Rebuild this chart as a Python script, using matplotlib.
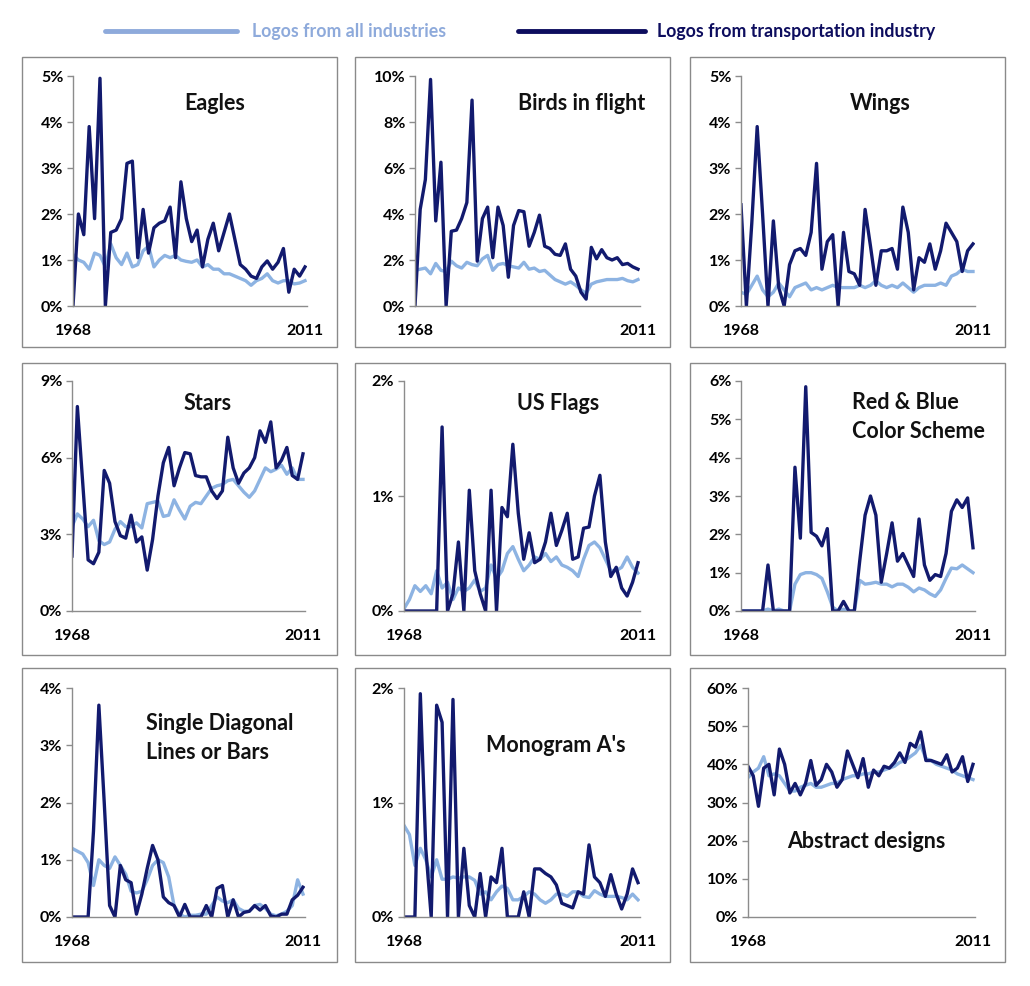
import matplotlib
matplotlib.use("Agg")
import matplotlib.pyplot as plt
import numpy as np
from matplotlib.patches import Rectangle
from matplotlib.lines import Line2D

plt.rcParams["font.family"] = ["Lato", "DejaVu Sans"]

W, H = 1030, 986
LIGHT = "#8db3e2"
DARK = "#121a6e"
AXIS = "#8c8c8c"

years = np.arange(1968, 2012)

# values in percent (44 points each, 1968..2011)
eagles_all = [1.12, 1.0, 0.95, 0.8, 1.15, 1.1, 0.85, 1.35, 1.05, 0.9, 1.15, 0.85, 0.9, 1.2, 1.3,
              0.85, 1.0, 1.1, 1.05, 1.1, 1.0, 0.97, 0.95, 1.0, 0.85, 0.9, 0.8, 0.8, 0.7, 0.7,
              0.65, 0.6, 0.55, 0.45, 0.55, 0.6, 0.7, 0.55, 0.5, 0.55, 0.55, 0.48, 0.5, 0.55]
eagles_trans = [0.0, 2.0, 1.55, 3.9, 1.9, 4.95, 0.0, 1.6, 1.65, 1.9, 3.1, 3.15, 1.05, 2.1, 1.15,
                1.7, 1.8, 1.85, 2.15, 1.05, 2.7, 1.9, 1.4, 1.65, 0.85, 1.45, 1.8, 1.2, 1.6, 2.0,
                1.45, 0.9, 0.8, 0.65, 0.6, 0.85, 0.98, 0.8, 0.95, 1.25, 0.3, 0.8, 0.65, 0.85]

birds_all = [1.55, 1.6, 1.65, 1.4, 1.85, 1.55, 1.5, 1.95, 1.75, 1.65, 1.9, 1.8, 1.75, 2.05, 2.2,
             1.55, 1.8, 1.85, 1.75, 1.7, 1.65, 1.9, 1.6, 1.65, 1.5, 1.55, 1.35, 1.15, 1.05, 0.95,
             1.05, 0.9, 0.7, 0.55, 0.95, 1.05, 1.1, 1.15, 1.15, 1.15, 1.2, 1.1, 1.05, 1.15]
birds_trans = [0.0, 4.2, 5.5, 9.85, 3.7, 6.25, 0.0, 3.25, 3.3, 3.8, 4.5, 8.95, 1.95, 3.8, 4.3,
               2.1, 4.3, 3.5, 1.25, 3.5, 4.15, 4.1, 2.6, 3.2, 3.95, 2.6, 2.5, 2.25, 2.2, 2.7,
               1.6, 1.3, 0.6, 0.3, 2.55, 2.05, 2.45, 2.1, 2.0, 2.1, 1.8, 1.85, 1.7, 1.6]

wings_all = [0.3, 0.25, 0.45, 0.65, 0.35, 0.2, 0.3, 0.5, 0.35, 0.2, 0.4, 0.45, 0.5, 0.35, 0.4,
             0.35, 0.4, 0.45, 0.4, 0.4, 0.4, 0.4, 0.45, 0.4, 0.45, 0.55, 0.45, 0.4, 0.45, 0.4,
             0.5, 0.4, 0.3, 0.4, 0.45, 0.45, 0.45, 0.5, 0.45, 0.65, 0.7, 0.8, 0.75, 0.75]
wings_trans = [2.2, 0.0, 1.8, 3.9, 2.0, 0.0, 1.85, 0.4, 0.0, 0.9, 1.2, 1.25, 1.1, 1.6, 3.1,
               0.8, 1.4, 1.55, 0.0, 1.6, 0.75, 0.7, 0.45, 2.1, 1.3, 0.45, 1.2, 1.2, 1.25, 0.8,
               2.15, 1.6, 0.35, 1.05, 0.95, 1.35, 0.8, 1.2, 1.8, 1.6, 1.4, 0.75, 1.2, 1.35]

stars_all = [3.3, 3.8, 3.6, 3.3, 3.55, 2.75, 2.6, 2.7, 3.2, 3.5, 3.3, 3.3, 3.45, 3.25, 4.2,
             4.25, 4.3, 3.7, 3.75, 4.35, 3.95, 3.6, 4.1, 4.25, 4.2, 4.5, 4.8, 4.9, 4.95, 5.1,
             5.15, 4.9, 4.65, 4.45, 4.7, 5.15, 5.6, 5.45, 5.55, 5.7, 5.35, 5.6, 5.15, 5.15]
stars_trans = [2.15, 8.0, 5.0, 2.0, 1.85, 2.3, 5.5, 5.0, 3.5, 2.95, 2.85, 3.75, 2.7, 2.9, 1.6,
               2.8, 4.5, 5.8, 6.4, 4.9, 5.6, 6.2, 6.15, 5.3, 5.25, 5.25, 4.7, 4.4, 4.7, 6.8,
               5.6, 5.0, 5.4, 5.6, 6.0, 7.05, 6.6, 7.4, 5.6, 5.9, 6.4, 5.3, 5.15, 6.15]

flags_all = [0.02, 0.1, 0.22, 0.17, 0.22, 0.15, 0.35, 0.2, 0.25, 0.1, 0.2, 0.17, 0.2, 0.27, 0.17,
             0.2, 0.4, 0.28, 0.35, 0.5, 0.56, 0.45, 0.35, 0.4, 0.47, 0.45, 0.5, 0.43, 0.47, 0.4,
             0.38, 0.35, 0.3, 0.45, 0.57, 0.6, 0.55, 0.45, 0.35, 0.35, 0.38, 0.47, 0.38, 0.33]
flags_trans = [0.0, 0.0, 0.0, 0.0, 0.0, 0.0, 0.0, 1.6, 0.0, 0.15, 0.6, 0.0, 1.05, 0.35, 0.15,
               0.0, 1.05, 0.0, 0.9, 0.82, 1.45, 0.85, 0.45, 0.68, 0.42, 0.45, 0.6, 0.85, 0.57, 0.7,
               0.85, 0.45, 0.47, 0.72, 0.73, 1.0, 1.18, 0.6, 0.3, 0.38, 0.2, 0.13, 0.25, 0.42]

redblue_all = [0.0, 0.0, 0.0, 0.0, 0.0, 0.05, 0.0, 0.05, 0.0, 0.0, 0.7, 0.95, 1.0, 1.0, 0.95,
               0.85, 0.5, 0.1, 0.0, 0.05, 0.0, 0.0, 0.8, 0.7, 0.72, 0.75, 0.7, 0.7, 0.63, 0.7,
               0.7, 0.62, 0.5, 0.6, 0.55, 0.45, 0.38, 0.55, 0.85, 1.12, 1.1, 1.2, 1.1, 1.0]
redblue_trans = [0.0, 0.0, 0.0, 0.0, 0.0, 1.2, 0.0, 0.0, 0.0, 0.0, 3.75, 1.9, 5.85, 2.05, 1.95,
                 1.7, 2.15, 0.0, 0.0, 0.25, 0.0, 0.0, 1.3, 2.5, 3.0, 2.5, 0.75, 1.5, 2.3, 1.3,
                 1.5, 1.2, 0.9, 2.4, 1.2, 0.8, 0.95, 0.9, 1.5, 2.6, 2.9, 2.7, 2.95, 1.65]

diag_all = [1.2, 1.15, 1.1, 0.95, 0.55, 1.0, 0.9, 0.85, 1.05, 0.9, 0.75, 0.45, 0.42, 0.45, 0.65,
            0.9, 1.0, 0.95, 0.7, 0.2, 0.05, 0.0, 0.03, 0.03, 0.05, 0.05, 0.2, 0.35, 0.28, 0.25,
            0.3, 0.15, 0.1, 0.1, 0.2, 0.22, 0.15, 0.05, 0.02, 0.05, 0.1, 0.2, 0.65, 0.4]
diag_trans = [0.0, 0.0, 0.0, 0.0, 1.5, 3.7, 2.0, 0.2, 0.0, 0.9, 0.65, 0.6, 0.05, 0.4, 0.85,
              1.25, 1.0, 0.35, 0.25, 0.2, 0.0, 0.22, 0.0, 0.0, 0.0, 0.2, 0.0, 0.5, 0.55, 0.0,
              0.3, 0.0, 0.08, 0.1, 0.2, 0.12, 0.2, 0.02, 0.0, 0.05, 0.05, 0.3, 0.38, 0.52]

mono_all = [0.8, 0.72, 0.45, 0.6, 0.5, 0.35, 0.5, 0.33, 0.33, 0.35, 0.34, 0.35, 0.35, 0.32, 0.2,
            0.22, 0.15, 0.22, 0.27, 0.25, 0.15, 0.15, 0.18, 0.22, 0.2, 0.15, 0.12, 0.15, 0.2, 0.2,
            0.18, 0.22, 0.22, 0.18, 0.17, 0.23, 0.2, 0.18, 0.18, 0.18, 0.17, 0.15, 0.2, 0.15]
mono_trans = [0.0, 0.0, 0.0, 1.95, 0.6, 0.0, 1.85, 1.7, 0.0, 1.9, 0.0, 0.6, 0.1, 0.0, 0.38,
              0.0, 0.35, 0.3, 0.6, 0.0, 0.0, 0.0, 0.22, 0.0, 0.42, 0.42, 0.38, 0.35, 0.28, 0.12,
              0.1, 0.08, 0.22, 0.2, 0.63, 0.35, 0.3, 0.18, 0.37, 0.2, 0.07, 0.2, 0.42, 0.3]

abstract_all = [36.5, 38, 39, 42, 37, 37.5, 37, 35, 33, 33, 34, 34.5, 35, 34, 34,
                34.5, 35, 35, 36, 36.5, 37, 37, 37.5, 37.5, 38, 38, 38.5, 39, 39.5, 40.5,
                41, 42, 43, 45, 41.5, 41, 40, 39.5, 39, 38.5, 37.5, 37, 36.5, 36]
abstract_trans = [39.5, 37, 29, 39, 40, 32, 44, 40, 32.5, 35, 32, 35, 41, 34.5, 36,
                  40, 38, 34, 36, 43.5, 40, 36.5, 41.5, 34, 38.5, 37, 39.5, 39, 40.5, 43,
                  40.5, 45.5, 44.5, 48.5, 41, 41, 40.5, 40, 42.5, 38, 39, 42, 35.5, 40]

titles = ["Eagles", "Birds in flight", "Wings", "Stars", "US Flags",
          "Red & Blue\nColor Scheme", "Single Diagonal\nLines or Bars", "Monogram A's",
          "Abstract designs"]
y_max = [5, 10, 5, 9, 2, 6, 4, 2, 60]
y_step = [1, 2, 1, 3, 1, 1, 1, 1, 10]
series_all = [eagles_all, birds_all, wings_all, stars_all, flags_all, redblue_all,
              diag_all, mono_all, abstract_all]
series_trans = [eagles_trans, birds_trans, wings_trans, stars_trans, flags_trans,
                redblue_trans, diag_trans, mono_trans, abstract_trans]

# layout in pixels: axis left (1968), last point (2011), top, bottom
ax_left = [73, 415, 741, 72, 404, 741, 72, 404, 748]
ax_last = [305, 638, 973, 303, 638, 973, 303, 638, 973]
ax_top = [76, 76, 76, 381, 381, 381, 688, 688, 688]
ax_bot = [306, 306, 306, 611, 611, 611, 917, 917, 917]
box_x = [22, 355, 690]
box_w = 315
box_y = [57, 363, 668]
box_h = [290, 292, 294]
title_pos = [(215, 103, "center"), (582, 103, "center"), (880, 103, "center"),
             (208, 403, "center"), (558, 403, "center"), (852, 417, "left"),
             (146, 738, "left"), (556, 745, "center"), (866, 841, "center")]

fig = plt.figure(figsize=(W / 100, H / 100), dpi=100)

for r in range(3):
    for c in range(3):
        fig.patches.append(Rectangle((box_x[c] / W, 1 - (box_y[r] + box_h[r]) / H),
                                     box_w / W, box_h[r] / H, transform=fig.transFigure,
                                     fill=False, edgecolor="#8a8a8a", linewidth=1))

for i in range(9):
    x0, x1 = ax_left[i], ax_last[i]
    width = (x1 - x0) * 43.3 / 43
    ax = fig.add_axes([x0 / W, 1 - ax_bot[i] / H, width / W, (ax_bot[i] - ax_top[i]) / H])
    ax.plot(years, series_all[i], color=LIGHT, linewidth=2.4, solid_joinstyle="round")
    ax.plot(years, series_trans[i], color=DARK, linewidth=2.4, solid_joinstyle="round")
    ax.set_xlim(1968, 2011.3)
    ax.set_ylim(0, y_max[i])
    ticks = np.arange(0, y_max[i] + 0.001, y_step[i])
    ax.set_yticks(ticks)
    ax.set_yticklabels([f"{int(t)}%" for t in ticks], fontsize=11.5, fontweight="bold")
    ax.set_xticks([1968, 2011])
    ax.set_xticklabels(["1968", "2011"], fontsize=11.5, fontweight="bold")
    ax.tick_params(axis="x", length=0, pad=13)
    ax.tick_params(axis="y", length=4, width=1, color=AXIS, pad=3)
    for s in ["top", "right"]:
        ax.spines[s].set_visible(False)
    for s in ["left", "bottom"]:
        ax.spines[s].set_color(AXIS)
        ax.spines[s].set_linewidth(1)
    ax.patch.set_alpha(0)
    tx, ty, ha = title_pos[i]
    fig.text(tx / W, 1 - ty / H, titles[i], ha=ha, va="center", fontsize=15.5,
             fontweight="bold", color="#111111", linespacing=1.45)

# legend
fig.add_artist(Line2D([105 / W, 237 / W], [1 - 31 / H, 1 - 31 / H], color="#8eaadb",
                      linewidth=3.5, solid_capstyle="round"))
fig.text(252 / W, 1 - 31 / H, "Logos from all industries", ha="left", va="center",
         fontsize=12.8, fontweight="bold", color="#8eaadb")
fig.add_artist(Line2D([518 / W, 645 / W], [1 - 31 / H, 1 - 31 / H], color="#0d0d5e",
                      linewidth=3.5, solid_capstyle="round"))
fig.text(657 / W, 1 - 31 / H, "Logos from transportation industry", ha="left", va="center",
         fontsize=12.8, fontweight="bold", color="#0d0d5e")

fig.savefig("out.png", dpi=100)
